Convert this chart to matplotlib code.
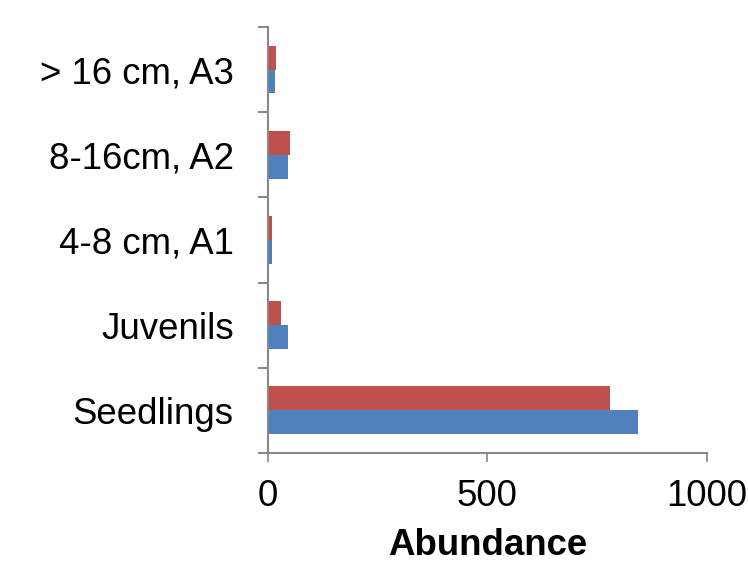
import matplotlib
matplotlib.use("Agg")
import matplotlib.pyplot as plt
import numpy as np

plt.rcParams['font.family'] = ['Liberation Sans', 'DejaVu Sans']

categories = ["Seedlings", "Juvenils", "4-8 cm, A1", "8-16cm, A2", "> 16 cm, A3"]
series_red = [780, 30, 9, 50, 18]
series_blue = [843, 45, 10, 47, 16]
x_ticks = [0, 500, 1000]

FS = 26.4

fig = plt.figure(figsize=(7.48, 5.69), dpi=100)
ax = fig.add_axes([0.358, 0.204, 0.587, 0.7485])

y = np.arange(len(categories))
h = 0.28
ax.barh(y + h / 2, series_red, height=h, color="#C0504D")
ax.barh(y - h / 2, series_blue, height=h, color="#4F81BD")

ax.set_xlim(0, 1000)
ax.set_ylim(-0.5, len(categories) - 0.5)
ax.set_xticks(x_ticks)
ax.set_xticklabels([str(v) for v in x_ticks], fontsize=FS)
ax.set_yticks(y)
ax.set_yticklabels(categories, fontsize=FS)
ax.set_yticks(np.arange(len(categories) + 1) - 0.5, minor=True)
ax.tick_params(axis="y", which="major", length=0, pad=24.5)
ax.tick_params(axis="y", which="minor", length=7, width=1.5, color="#888888")
ax.tick_params(axis="x", which="major", length=6.5, width=1.2, color="#888888", pad=12)

for s in ("top", "right"):
    ax.spines[s].set_visible(False)
for s in ("left", "bottom"):
    ax.spines[s].set_color("#888888")
    ax.spines[s].set_linewidth(1.5)

ax.set_xlabel("Abundance", fontsize=FS, fontweight="bold", labelpad=10)

fig.savefig("out.png", dpi=100)
